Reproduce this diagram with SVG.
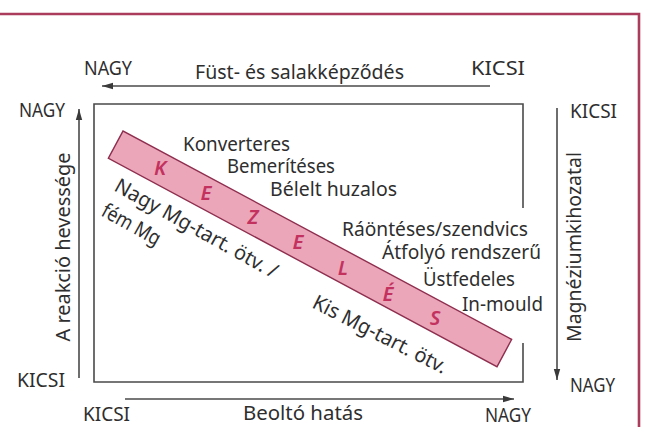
<svg xmlns="http://www.w3.org/2000/svg" width="645" height="427" viewBox="0 0 645 427">
  <style>
    .t { font-family: "Noto Sans", "Open Sans", "DejaVu Sans", sans-serif; font-size: 20.5px; fill: #2e2e2e; }
    .ax { stroke: #4a4a4a; stroke-width: 1.6; fill: none; }
    .frame { stroke: #ac3c5c; stroke-width: 2.6; fill: none; }
    .band { fill: #eba6ba; stroke: #8e2e4e; stroke-width: 1.4; }
    .bl { font-family: "Noto Sans", "Open Sans", sans-serif; font-size: 20.5px; font-style: italic; font-weight: 600; fill: #c3325f; text-anchor: middle; }
  </style>
  <defs>
    <marker id="arrow" markerUnits="userSpaceOnUse" markerWidth="12" markerHeight="8" refX="11" refY="4" orient="auto">
      <path d="M0,0.8 L11,4 L0,7.2 z" fill="#3a3a3a"/>
    </marker>
  </defs>

  <rect width="645" height="427" fill="#ffffff"/>

  <!-- outer frame -->
  <g id="frame">
    <path class="frame" d="M0,14 H639 V427"/>
  </g>

  <!-- chart box, right side open where the right-hand labels sit -->
  <g id="box">
    <path class="ax" d="M523,208 V104 H94 V382 H523 V343"/>
  </g>

  <!-- axis arrows -->
  <g id="connectors">
    <line class="ax" x1="490" y1="86" x2="102" y2="86" marker-end="url(#arrow)"/>
    <line class="ax" x1="79" y1="378" x2="79" y2="109" marker-end="url(#arrow)"/>
    <line class="ax" x1="557" y1="108" x2="557" y2="380" marker-end="url(#arrow)"/>
    <line class="ax" x1="125" y1="399" x2="514" y2="399" marker-end="url(#arrow)"/>
  </g>

  <!-- axis end labels -->
  <g id="axis-labels">
    <text class="t" x="84" y="75" textLength="48" lengthAdjust="spacingAndGlyphs">NAGY</text>
    <text class="t" x="471" y="75" textLength="54" lengthAdjust="spacingAndGlyphs">KICSI</text>
    <text class="t" x="195" y="79" textLength="209" lengthAdjust="spacingAndGlyphs">Füst- és salakképződés</text>
    <text class="t" x="19" y="117" textLength="46" lengthAdjust="spacingAndGlyphs">NAGY</text>
    <text class="t" x="570" y="118" textLength="47" lengthAdjust="spacingAndGlyphs">KICSI</text>
    <text class="t" x="17" y="387" textLength="48" lengthAdjust="spacingAndGlyphs">KICSI</text>
    <text class="t" x="570" y="392" textLength="45" lengthAdjust="spacingAndGlyphs">NAGY</text>
    <text class="t" x="83" y="421" textLength="47" lengthAdjust="spacingAndGlyphs">KICSI</text>
    <text class="t" x="243" y="420" textLength="120" lengthAdjust="spacingAndGlyphs">Beoltó hatás</text>
    <text class="t" x="485" y="422" textLength="46" lengthAdjust="spacingAndGlyphs">NAGY</text>
    <text class="t" transform="translate(70,247) rotate(-90)" text-anchor="middle" textLength="189" lengthAdjust="spacingAndGlyphs">A reakció hevessége</text>
    <text class="t" transform="translate(581,247) rotate(-90)" text-anchor="middle" textLength="190" lengthAdjust="spacingAndGlyphs">Magnéziumkihozatal</text>
  </g>

  <!-- treatment band -->
  <g id="band">
    <rect class="band" x="0" y="0" width="441" height="31" transform="translate(123,131) rotate(28.2)"/>
    <text class="bl" x="160" y="175">K</text>
    <text class="bl" x="206" y="200">E</text>
    <text class="bl" x="253" y="224">Z</text>
    <text class="bl" x="298" y="249">E</text>
    <text class="bl" x="343" y="275">L</text>
    <text class="bl" x="388" y="301">É</text>
    <text class="bl" x="435" y="325">S</text>
  </g>

  <!-- treatment methods -->
  <g id="methods">
    <text class="t" x="183" y="151" textLength="107" lengthAdjust="spacingAndGlyphs">Konverteres</text>
    <text class="t" x="227" y="173" textLength="108" lengthAdjust="spacingAndGlyphs">Bemerítéses</text>
    <text class="t" x="270" y="196" textLength="127" lengthAdjust="spacingAndGlyphs">Bélelt huzalos</text>
    <text class="t" x="342" y="236" textLength="186" lengthAdjust="spacingAndGlyphs">Ráöntéses/szendvics</text>
    <text class="t" x="382" y="259" textLength="159" lengthAdjust="spacingAndGlyphs">Átfolyó rendszerű</text>
    <text class="t" x="423" y="286" textLength="92" lengthAdjust="spacingAndGlyphs">Üstfedeles</text>
    <text class="t" x="462" y="311" textLength="81" lengthAdjust="spacingAndGlyphs">In-mould</text>
  </g>

  <!-- alloy labels along the band -->
  <g id="alloys">
    <text class="t" transform="translate(113,190) rotate(29)" textLength="183" lengthAdjust="spacingAndGlyphs">Nagy Mg-tart. ötv. /</text>
    <text class="t" transform="translate(100,215) rotate(29)" textLength="64" lengthAdjust="spacingAndGlyphs">fém Mg</text>
    <text class="t" transform="translate(311,307) rotate(27)" textLength="148" lengthAdjust="spacingAndGlyphs">Kis Mg-tart. ötv.</text>
  </g>
</svg>
